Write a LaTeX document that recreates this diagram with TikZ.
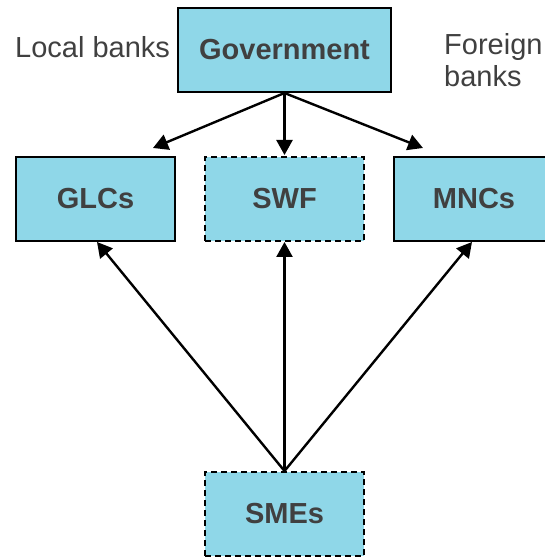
\documentclass[tikz,border=0pt]{standalone}
\usepackage{fontspec}
\setmainfont{Liberation Sans}
\usetikzlibrary{arrows.meta}
\definecolor{boxfill}{HTML}{8FD7E8}
\definecolor{txt}{HTML}{404040}
\begin{document}
\begin{tikzpicture}[x=1pt,y=1pt,
  box/.style={draw=black,line width=2pt,fill=boxfill,minimum height=84pt,inner sep=0pt,
    text=txt,font=\fontsize{29}{33}\selectfont\bfseries},
  dbox/.style={box,dashed,dash pattern=on 6pt off 4pt},
  lbl/.style={text=txt,font=\fontsize{29}{33}\selectfont,inner sep=0pt},
  conn/.style={line width=2.4pt,-{Triangle[length=15pt,width=16pt]}}]
\useasboundingbox (0,0) rectangle (544,557);
\node[box,minimum width=213pt] (gov) at (284.5,507) {Government};
\node[box,minimum width=159pt] (glc) at (95.5,358) {GLCs};
\node[dbox,minimum width=159pt] (swf) at (284.5,358) {SWF};
\node[box,minimum width=160pt] (mnc) at (474,358) {MNCs};
\node[dbox,minimum width=159pt] (sme) at (284.5,43) {SMEs};
\node[lbl,anchor=base west] (loc) at (15,499) {Local banks};
\node[lbl,anchor=base west] (for1) at (444,502) {Foreign};
\node[lbl,anchor=base west] (for2) at (444,470) {banks};
\coordinate (tl) at (153,409);
\coordinate (tm) at (284.5,402);
\coordinate (tr) at (423,409);
\draw[conn] (gov.south) -- (tl);
\draw[conn] (gov.south) -- (tm);
\draw[conn] (gov.south) -- (tr);
\draw[conn] (sme.north) -- ([xshift=1.5pt]glc.south);
\draw[conn] (sme.north) -- (swf.south);
\draw[conn] (sme.north) -- ([xshift=-2pt]mnc.south);
\end{tikzpicture}
\end{document}
